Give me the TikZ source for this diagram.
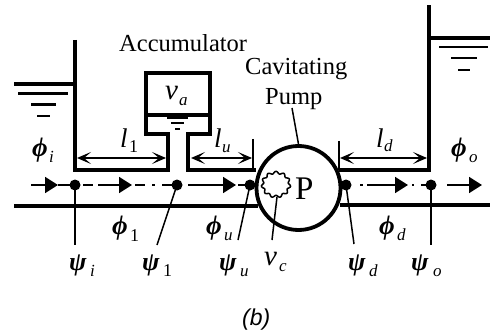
\documentclass[tikz,border=0pt]{standalone}
\usepackage{fontspec}
\setmainfont{Liberation Serif}
\newfontfamily\labelsans{Liberation Sans}
\usetikzlibrary{arrows.meta}
\newcommand{\txtsz}[1]{\fontsize{#1}{#1}\selectfont}
\tikzset{
  wall/.style={line width=3.8pt,line cap=butt,line join=miter},
  thin water/.style={line width=2.3pt},
  leader/.style={line width=1.5pt},
  flowline/.style={line width=1.8pt},
  flowarrow/.style={line width=1.8pt,-{Triangle[length=13pt,width=16pt]}},
  dimarrow/.style={line width=1.7pt,{Stealth[length=14pt,width=12pt,inset=7pt]}-{Stealth[length=14pt,width=12pt,inset=7pt]}},
  label/.style={anchor=base west,inner sep=0pt,font=\txtsz{24.5}},
  sym/.style={anchor=base west,inner sep=0pt,font=\bfseries\itshape\txtsz{25}},
  phisym/.style={anchor=base west,inner sep=0pt,font=\bfseries\itshape\txtsz{27}},
  psisym/.style={anchor=base west,inner sep=0pt,font=\bfseries\itshape\txtsz{26}},
  sub/.style={anchor=base west,inner sep=0pt,font=\itshape\txtsz{17}},
  dot/.style={circle,fill=black,inner sep=0pt,minimum size=11pt},
}
\begin{document}
\begin{tikzpicture}[x=1pt,y=-1pt]
\useasboundingbox (0,0) rectangle (490,334);
% left tank and inlet duct
\draw[wall] (14,84) -- (75,84);
\draw[wall] (75,40) -- (75,170) -- (168,170) -- (168,134) -- (146,134) -- (146,73) -- (210,73) -- (210,134) -- (188,134) -- (188,170) -- (256,170);
\draw[wall] (146,115) -- (210,115);
\draw[thin water] (18,93.5) -- (68,93.5);
\draw[thin water] (31,104.5) -- (56,104.5);
\draw[thin water] (37,116) -- (50,116);
\draw[line width=1.6pt] (167,118) -- (188,118);
\draw[line width=1.6pt] (171,123) -- (184,123);
\draw[line width=1.6pt] (175,129) -- (180,129);
% right tank and outlet duct
\draw[wall] (339,170) -- (429,170) -- (429,5);
\draw[wall] (429,38) -- (490,38);
\draw[thin water] (439,47) -- (488,47);
\draw[thin water] (451,58) -- (477,58);
\draw[thin water] (458,70) -- (470,70);
% lower wall
\draw[wall] (14,206) -- (258,206);
\draw[wall] (340,205) -- (490,205);
% pump
\node[circle,draw,line width=3.8pt,fill=white,minimum size=84pt,inner sep=0pt] (pump) at (298.5,188) {};
\node[anchor=base west,inner sep=0pt,font=\txtsz{33}] (pP) at (295,200) {P};
\draw[line width=1.5pt] plot[domain=0:360,samples=90] ({276+(13.5+1.2*sin(11*\x))*cos(\x)},{184.5+(12+1.2*sin(11*\x))*sin(\x)}) -- cycle;
% dots
\node[dot] (d1) at (75,185) {};
\node[dot] (d2) at (177,185) {};
\node[dot] (d3) at (250,185) {};
\node[dot] (d4) at (346,185) {};
\node[dot] (d5) at (431,185) {};
% flow arrows
\foreach \a/\b in {31/58,98/132,188/236,367/408,447/482}{
  \draw[flowarrow] (\a,185) -- (\b,185);
}
% dash-dot pieces
\foreach \a/\b in {58/70,83/93,135/145,152/155,162/172,238/245,360/363,412/414,421/427}{
  \draw[flowline] (\a,185) -- (\b,185);
}
% dimension ticks and arrows
\draw[line width=1.5pt] (253,139) -- (253,170);
\draw[line width=1.5pt] (339,141) -- (339,170);
\draw[dimarrow] (77,158) -- (166,158);
\draw[dimarrow] (191,158) -- (252,158);
\draw[dimarrow] (340,158) -- (427,158);
% leaders
\coordinate (e1) at (75,245);
\coordinate (e2) at (157,245);
\coordinate (e3) at (238,240);
\coordinate (e4) at (272,240);
\coordinate (e5) at (354,244);
\coordinate (e6) at (431,245);
\coordinate (b0) at (277,197);
\coordinate (p0) at (292,108);
\draw[leader] (d1.center) -- (e1);
\draw[leader] (d2.center) -- (e2);
\draw[leader] (d3.center) -- (e3);
\draw[leader] (b0) -- (e4);
\draw[leader] (d4.center) -- (e5);
\draw[leader] (d5.center) -- (e6);
\draw[leader] (p0) -- (pump.north);
% texts
\node[label] (t1) at (119,52) {Accumulator};
\node[label] (t2) at (245,75) {Cavitating};
\node[label] (t3) at (265,105) {Pump};
\node[sym,font=\itshape\txtsz{29}] (va) at (165,100) {v};
\node[sub] (vas) at (179,106) {a};
\node[phisym] (phii) at (32,157) {ϕ};
\node[sub] at (49,163) {i};
\node[phisym] (phi1) at (112,234) {ϕ};
\node[sub,font=\txtsz{18}] at (130,241) {1};
\node[phisym] (phiu) at (206,234) {ϕ};
\node[sub] at (224,240) {u};
\node[phisym] (phid) at (379,234) {ϕ};
\node[sub] at (397,240) {d};
\node[phisym] (phio) at (451,157) {ϕ};
\node[sub] at (469,163) {o};
\node[sym,font=\itshape\txtsz{27}] (l1) at (120,148) {l};
\node[sub,font=\txtsz{18}] at (129,153) {1};
\node[sym,font=\itshape\txtsz{27}] (lu) at (214,148) {l};
\node[sub] at (222,153) {u};
\node[sym,font=\itshape\txtsz{27}] (ld) at (376,147) {l};
\node[sub] at (384,152) {d};
\node[psisym] (psii) at (69,270) {ψ};
\node[sub] at (90,276) {i};
\node[psisym] (psi1) at (142,270) {ψ};
\node[sub,font=\txtsz{18}] at (163,276) {1};
\node[psisym] (psiu) at (219,270) {ψ};
\node[sub] at (240,276) {u};
\node[psisym] (psid) at (348,270) {ψ};
\node[sub] at (369,276) {d};
\node[psisym] (psio) at (411,270) {ψ};
\node[sub] at (433,276) {o};
\node[sym,font=\itshape\txtsz{29}] (vc) at (264,265) {v};
\node[sub] at (279,271) {c};
\node[anchor=base west,inner sep=0pt,font=\labelsans\itshape\txtsz{23}] (cap) at (242,325) {(\textit{b})};
\end{tikzpicture}
\end{document}
